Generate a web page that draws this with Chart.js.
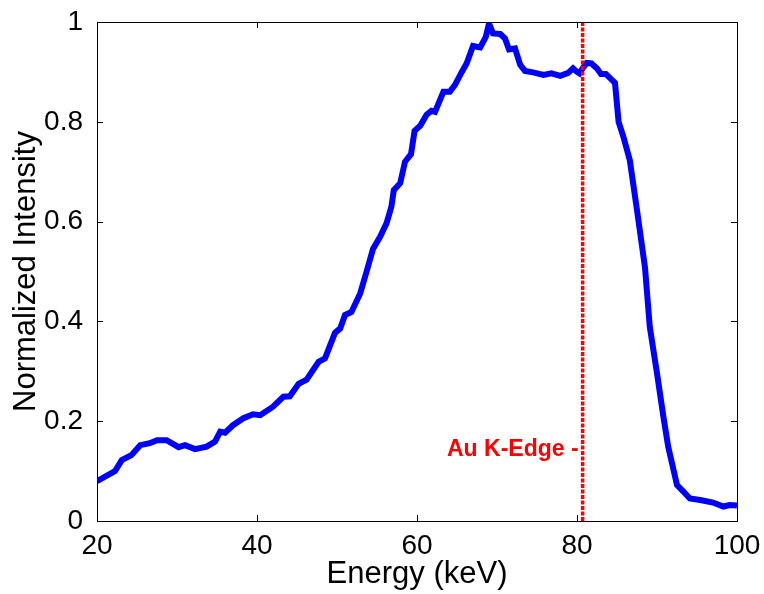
<!DOCTYPE html>
<html>
<head>
<meta charset="utf-8">
<script src="https://cdn.jsdelivr.net/npm/chart.js@4.4.1/dist/chart.umd.min.js"></script>
<style>
  html, body { margin: 0; padding: 0; background: #fff; }
  #chart-spectrum { display: block; }
</style>
</head>
<body>
<canvas id="chart-spectrum" width="764" height="594"></canvas>
<script>
// spectrum (keV, normalized)
const energy = [
  20.0, 22.25, 23.1, 24.3, 25.4, 26.6, 27.5, 28.7, 30.2, 31.0,
  32.25, 33.7, 34.75, 35.4, 36.0, 37.0, 38.3, 39.5, 40.4, 42.0,
  43.3, 44.1, 45.2, 46.2, 47.7, 48.5, 49.75, 50.4, 51.0, 51.8,
  52.9, 53.7, 54.5, 55.4, 56.2, 56.8, 57.1, 57.9, 58.5, 59.25,
  59.7, 60.4, 61.2, 61.8, 62.25, 63.3, 64.1, 64.75, 65.6, 66.2,
  67.0, 67.9, 68.6, 69.0, 69.5, 70.4, 71.0, 71.5, 72.25, 72.9,
  73.5, 74.5, 75.8, 76.8, 77.9, 78.9, 79.5, 80.0, 80.3, 80.7,
  81.2, 81.8, 82.5, 83.0, 83.6, 84.75, 85.2, 85.8, 86.6, 87.5,
  88.5, 89.1, 90.0, 90.8, 91.4, 92.5, 93.3, 94.1, 95.4, 97.0,
  98.3, 99.1, 100.0
]
const intensity = [
  0.080, 0.100, 0.122, 0.132, 0.152, 0.156, 0.162, 0.162, 0.148, 0.152,
  0.144, 0.149, 0.159, 0.179, 0.177, 0.192, 0.206, 0.214, 0.212, 0.229,
  0.249, 0.250, 0.275, 0.283, 0.319, 0.326, 0.377, 0.386, 0.413, 0.419,
  0.456, 0.500, 0.545, 0.570, 0.597, 0.630, 0.663, 0.677, 0.720, 0.735,
  0.782, 0.792, 0.814, 0.822, 0.820, 0.860, 0.860, 0.874, 0.900, 0.917,
  0.952, 0.949, 0.970, 0.997, 0.977, 0.976, 0.967, 0.945, 0.947, 0.914,
  0.902, 0.899, 0.894, 0.897, 0.892, 0.898, 0.907, 0.900, 0.897, 0.907,
  0.918, 0.917, 0.907, 0.896, 0.896, 0.878, 0.800, 0.770, 0.723, 0.623,
  0.508, 0.389, 0.296, 0.209, 0.149, 0.072, 0.059, 0.045, 0.042, 0.037,
  0.029, 0.032, 0.031
]

const kEdge = 80.7
const edgeLine = [0, 1]
const edgeLabel = 'Au K-Edge -'
const edgeLabelPos = [80.2, 0.142]

const xTicks = [20, 40, 60, 80, 100]
const yTicks = [0, 0.2, 0.4, 0.6, 0.8, 1]

const blueColor = '#0000ff'
const redColor = '#ff0000'
const fontFamily = '"Liberation Sans", Arial, sans-serif'

var spectrum_data = []
var i
for (i = 0; i < energy.length; i++) {
    spectrum_data[i] = { x: energy[i], y: intensity[i] }
}

var edge_data = []
for (i = 0; i < edgeLine.length; i++) {
    edge_data[i] = { x: kEdge, y: edgeLine[i] }
}

// matlab style box with inward ticks + the edge label
const matlabFrame = {
    id: 'matlabFrame',
    afterDatasetsDraw(chart) {
        var ctx = chart.ctx
        var area = chart.chartArea
        var xs = chart.scales.x
        var ys = chart.scales.y
        var len = 6

        ctx.save()
        ctx.strokeStyle = '#000'
        ctx.lineWidth = 1
        ctx.beginPath()
        xTicks.forEach(function (v) {
            var px = Math.round(xs.getPixelForValue(v)) + 0.5
            ctx.moveTo(px, area.bottom); ctx.lineTo(px, area.bottom - len)
            ctx.moveTo(px, area.top); ctx.lineTo(px, area.top + len)
        })
        yTicks.forEach(function (v) {
            var py = Math.round(ys.getPixelForValue(v)) + 0.5
            ctx.moveTo(area.left, py); ctx.lineTo(area.left + len, py)
            ctx.moveTo(area.right, py); ctx.lineTo(area.right - len, py)
        })
        ctx.stroke()
        ctx.strokeRect(Math.round(area.left) + 0.5, Math.round(area.top) + 0.5,
            Math.round(area.right - area.left), Math.round(area.bottom - area.top))

        ctx.fillStyle = redColor
        ctx.font = 'bold 23px ' + fontFamily
        ctx.textAlign = 'right'
        ctx.textBaseline = 'middle'
        ctx.fillText(edgeLabel, xs.getPixelForValue(edgeLabelPos[0]), ys.getPixelForValue(edgeLabelPos[1]))
        ctx.restore()
    }
}

var ctx = document.getElementById('chart-spectrum')
var lineChart = new Chart(ctx, {
    type: 'line',
    data: {
        datasets: [{
            label: 'Au K-Edge',
            data: edge_data,
            borderColor: redColor,
            borderWidth: 3.5,
            borderDash: [4, 1.5],
            pointRadius: 0,
            fill: false,
            order: 0,
        }, {
            label: 'Spectrum',
            data: spectrum_data,
            borderColor: blueColor,
            borderWidth: 6,
            pointRadius: 0,
            lineTension: 0,
            fill: false,
            order: 1,
        }]
    },
    options: {
        responsive: false,
        animation: false,
        layout: { padding: { top: 22, right: 27, left: 0, bottom: 0 } },
        plugins: {
            legend: { display: false },
            tooltip: { enabled: false },
        },
        scales: {
            x: {
                type: 'linear',
                min: 20,
                max: 100,
                afterFit: function (scale) {
                    scale.height = 73
                    scale.paddingLeft = 0
                    scale.paddingRight = 0
                },
                afterBuildTicks: function (scale) {
                    scale.ticks = xTicks.map(function (v) { return { value: v } })
                },
                grid: { display: false },
                border: { display: false },
                ticks: {
                    color: '#000',
                    padding: 0,
                    maxRotation: 0,
                    font: { family: fontFamily, size: 28 },
                },
                title: {
                    display: true,
                    text: 'Energy (keV)',
                    color: '#000',
                    padding: { top: 0, bottom: 1 },
                    font: { family: fontFamily, size: 31 },
                },
            },
            y: {
                type: 'linear',
                min: 0,
                max: 1,
                afterFit: function (scale) {
                    scale.width = 97
                    scale.paddingTop = 0
                    scale.paddingBottom = 0
                },
                afterBuildTicks: function (scale) {
                    scale.ticks = yTicks.map(function (v) { return { value: v } })
                },
                grid: { display: false },
                border: { display: false },
                ticks: {
                    color: '#000',
                    padding: 6,
                    font: { family: fontFamily, size: 28 },
                    callback: function (value) { return String(Math.round(value * 10) / 10) },
                },
                title: {
                    display: true,
                    text: 'Normalized Intensity',
                    color: '#000',
                    padding: { top: 8, bottom: 0 },
                    font: { family: fontFamily, size: 31 },
                },
            },
        },
    },
    plugins: [matlabFrame],
})
</script>
</body>
</html>
